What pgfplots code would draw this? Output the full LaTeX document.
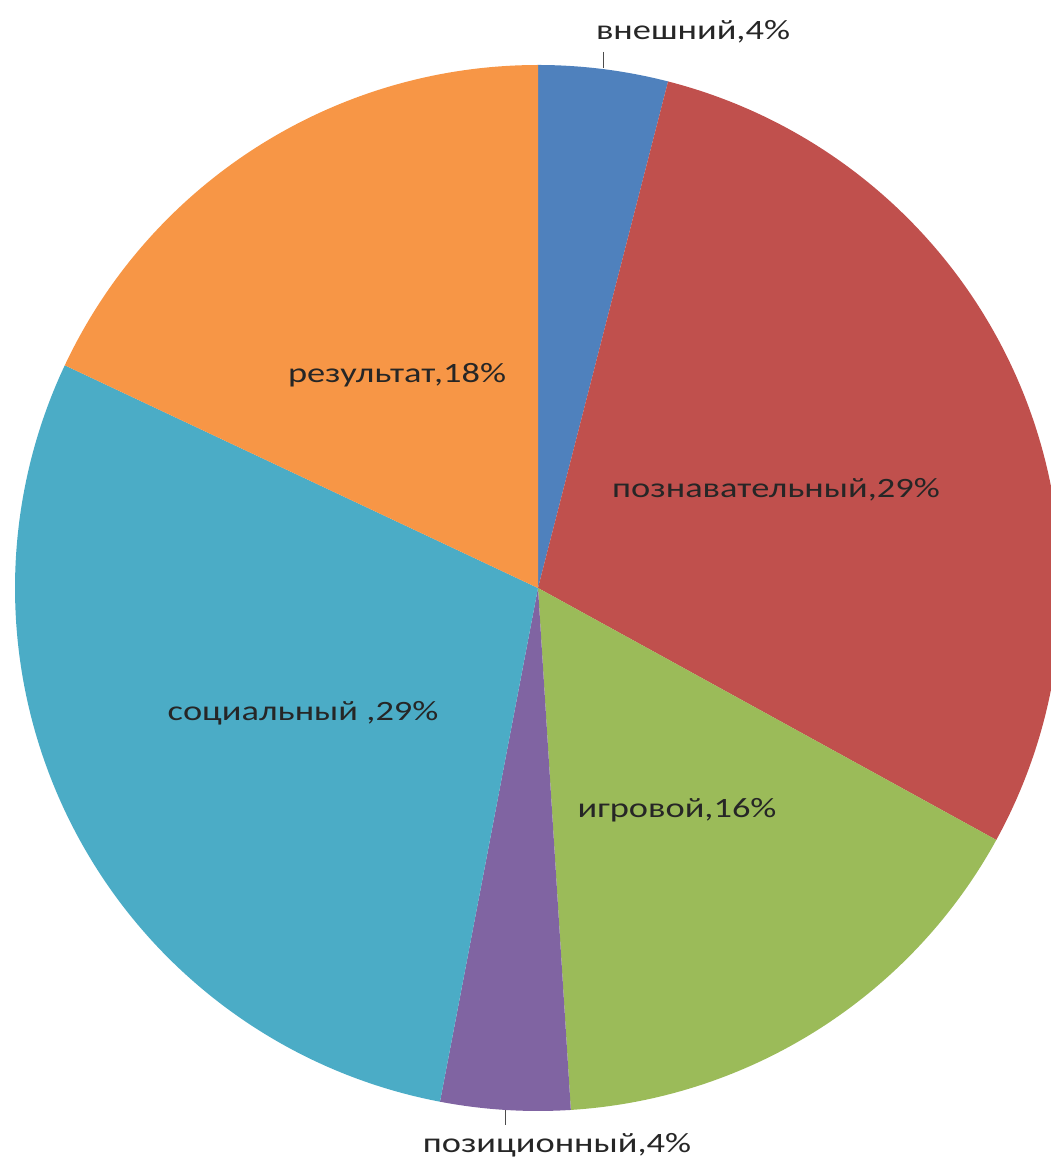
\documentclass[border=0pt]{standalone}
\usepackage{pgfplots}
\pgfplotsset{compat=1.18}
\usepackage{fontspec}
\setmainfont{Carlito}
\newfontfamily\labfont[FakeStretch=1.3]{Carlito}
\definecolor{cBlue}{HTML}{4F81BD}
\definecolor{cRed}{HTML}{C0504D}
\definecolor{cGreen}{HTML}{9BBB59}
\definecolor{cPurple}{HTML}{8064A2}
\definecolor{cAqua}{HTML}{4BACC6}
\definecolor{cOrange}{HTML}{F79646}
% slice: cumulative start (%), value (%), colour
\newcommand{\slice}[3]{%
  \pgfmathsetmacro\sa{90-3.6*#1}%
  \pgfmathsetmacro\sb{90-3.6*(#1+#2)}%
  \edef\tmp{\noexpand\fill[#3] (axis cs:538,582) -- ++(\sa:523pt) arc[start angle=\sa, end angle=\sb, radius=523pt] -- cycle;}%
  \tmp}
\tikzset{lab/.style={font=\labfont\fontsize{28}{32}\selectfont, text=black!85, inner sep=0pt}}
\begin{document}
\begin{tikzpicture}
\begin{axis}[
  x=1pt, y=1pt,
  xmin=0, xmax=1051, ymin=0, ymax=1170,
  hide axis, clip=true,
]
% values (percent): внешний 4, познавательный 29, игровой 16, позиционный 4, социальный 29, результат 18
\slice{0}{4}{cBlue}
\slice{4}{29}{cRed}
\slice{33}{16}{cGreen}
\slice{49}{4}{cPurple}
\slice{53}{29}{cAqua}
\slice{82}{18}{cOrange}
\draw[black!70, line width=1pt] (axis cs:603,1118) -- (axis cs:603,1102);
\draw[black!70, line width=1pt] (axis cs:505,60) -- (axis cs:505,45);
\node[lab] at (axis cs:693,1138) {внешний,4\%};
\node[lab] at (axis cs:397,795) {результат,18\%};
\node[lab] at (axis cs:776,680) {познавательный,29\%};
\node[lab] at (axis cs:303,457) {социальный ,29\%};
\node[lab] at (axis cs:677,360) {игровой,16\%};
\node[lab] at (axis cs:557,25) {позиционный,4\%};
\end{axis}
\pgfresetboundingbox
\useasboundingbox (current axis.south west) rectangle (current axis.north east);
\end{tikzpicture}
\end{document}
